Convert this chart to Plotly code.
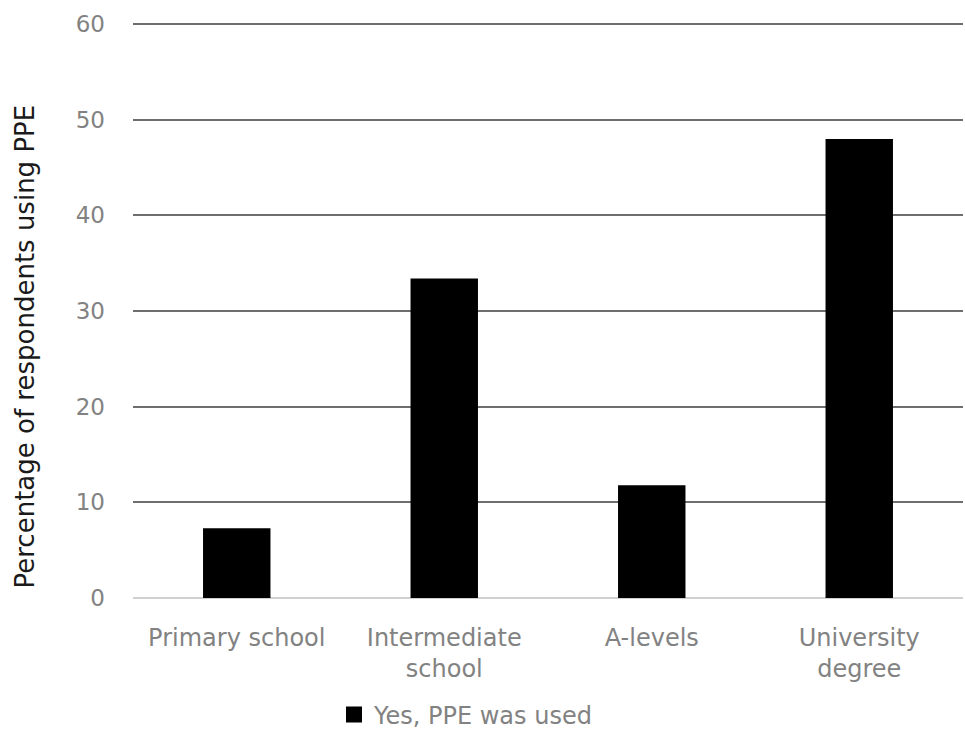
import plotly.graph_objects as go

categories = ["Primary school", "Intermediate<br>school", "A-levels", "University<br>degree"]
values = [7.3, 33.4, 11.8, 48.0]
series_name = "Yes, PPE was used"
y_title = "Percentage of respondents using PPE"
y_ticks = [0, 10, 20, 30, 40, 50, 60]

fig = go.Figure()
fig.add_trace(go.Bar(
    x=categories, y=values, name=series_name,
    marker=dict(color="#000000", line=dict(width=0)),
    showlegend=False,
))
# legend entry with a larger square swatch
fig.add_trace(go.Scatter(
    x=[None], y=[None], name=series_name, mode="markers",
    marker=dict(symbol="square", size=17, color="#000000"),
    showlegend=True,
))

W, H = 965, 729
L, R, T, B = 133, 2, 23, 131
FONT = "DejaVu Sans"
GRAY = "#828282"
PH = H - T - B
fig.update_layout(
    width=W, height=H,
    margin=dict(l=L, r=R, t=T, b=B, autoexpand=False),
    plot_bgcolor="white", paper_bgcolor="white",
    bargap=0.675,
    font=dict(family=FONT, size=23, color=GRAY),
    showlegend=True,
    legend=dict(
        orientation="h", x=(334 - L) / (W - L - R), xanchor="left",
        y=-(715 - (H - B)) / PH, yanchor="middle",
        font=dict(family=FONT, size=24, color=GRAY),
        itemwidth=30, itemsizing="trace",
    ),
    xaxis=dict(
        showgrid=False, showline=False, ticks="",
        tickfont=dict(family=FONT, size=24, color=GRAY),
        ticklabelstandoff=23,
    ),
    yaxis=dict(
        range=[0, 60.12], tickvals=y_ticks,
        showgrid=True, gridcolor="#6e6e6e", gridwidth=2,
        zeroline=True, zerolinecolor="#d0d0d0", zerolinewidth=2,
        showline=False, ticks="",
        tickfont=dict(family=FONT, size=23, color=GRAY),
        ticklabelstandoff=27,
    ),
    annotations=[dict(
        text=y_title, textangle=-90, showarrow=False,
        xref="paper", yref="paper",
        x=-(133 - 25) / (W - L - R), xanchor="center",
        y=(598.5 - 347) / PH, yanchor="middle",
        font=dict(family=FONT, size=26, color="#1a1a1a"),
    )],
)

fig.write_html("out.html")
